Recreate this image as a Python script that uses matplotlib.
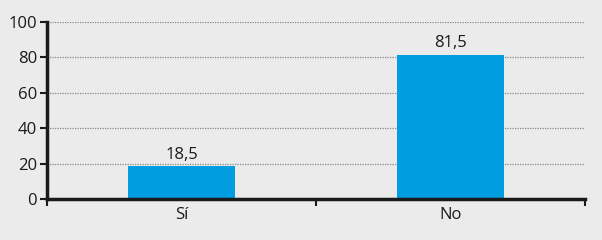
import matplotlib.pyplot as plt

categorias = ["Sí", "No"]
valores = [18.5, 81.5]
etiquetas = ["18,5", "81,5"]

plt.rcParams['font.family'] = ['Open Sans', 'DejaVu Sans']

fondo = "#ebebeb"
azul = "#009ee0"

fig = plt.figure(figsize=(6.02, 2.4), dpi=100, facecolor=fondo)
ax = fig.add_axes([0.078, 0.171, 0.894, 0.737], facecolor=fondo)

x = list(range(len(categorias)))
ax.bar(x, valores, width=0.4, color=azul, zorder=3)
for xi, v, t in zip(x, valores, etiquetas):
    ax.text(xi, v + 2, t, ha="center", va="bottom", fontsize=12, color="#1a1a1a")

ax.set_xlim(-0.5, 1.5)
ax.set_ylim(0, 100)
ax.set_yticks(range(0, 101, 20))
ax.yaxis.grid(True, color="#888888", linestyle=(0, (1, 1)), linewidth=0.9, zorder=0)

ax.set_xticks(x)
ax.set_xticklabels(categorias)
ax.set_xticks([-0.5, 0.5, 1.5], minor=True)
ax.tick_params(axis="x", which="major", length=0, pad=6, labelsize=12, colors="#1a1a1a")
ax.tick_params(axis="x", which="minor", length=5, width=1.5, direction="out", color="#1a1a1a")
ax.tick_params(axis="y", length=5, width=1.5, pad=2, labelsize=12, colors="#1a1a1a")

for s in ["top", "right"]:
    ax.spines[s].set_visible(False)
for s in ["left", "bottom"]:
    ax.spines[s].set_linewidth(2.5)
    ax.spines[s].set_color("#1a1a1a")
    ax.spines[s].set_zorder(4)

fig.savefig("out.png", dpi=100, facecolor=fondo)
